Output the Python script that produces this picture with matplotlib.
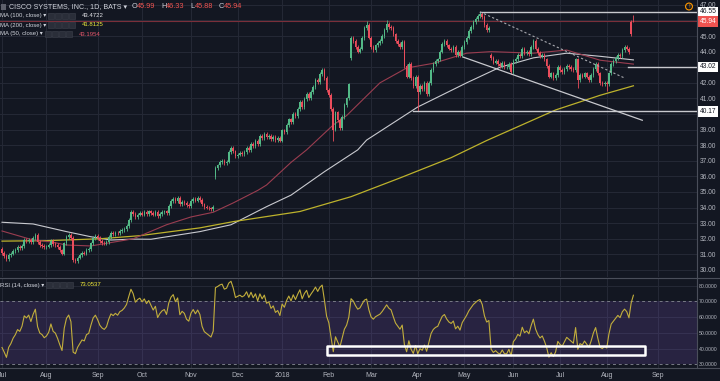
import numpy as np
import pandas as pd
import matplotlib
matplotlib.use("Agg")
import matplotlib.pyplot as plt
from matplotlib.patches import Rectangle

plt.rcParams['font.family'] = ['Liberation Sans', 'DejaVu Sans']

# trading days shown on the chart (NYSE holidays removed)
holidays = ["2017-07-04", "2017-09-04", "2017-11-23", "2017-12-25", "2018-01-01",
            "2018-01-15", "2018-02-19", "2018-03-30", "2018-05-28", "2018-07-04"]
dates = pd.bdate_range("2017-07-03", "2018-08-17", freq="C", holidays=holidays)

# daily closes
closes = [
    31.10, 30.92, 30.70, 30.95, 31.05, 31.20, 31.30, 31.45, 31.40, 31.55,
    31.90, 31.85, 31.95, 31.80, 32.05, 32.25, 31.80, 31.60, 31.55, 31.45,
    31.50, 31.60, 31.85, 31.65, 31.60, 31.45, 31.25, 31.05, 31.70, 32.10,
    32.25, 32.05, 30.65, 30.55, 30.80, 30.95, 31.10, 31.05, 31.30, 31.35,
    31.70, 32.05, 32.20, 32.05, 31.85, 31.75, 31.70, 31.80, 32.10, 32.35,
    32.30, 32.40, 32.35, 32.50, 32.55, 32.65, 32.80, 33.20, 33.70, 33.60,
    33.40, 33.55, 33.63, 33.55, 33.70, 33.60, 33.75, 33.65, 33.55, 33.70,
    33.45, 33.60, 33.70, 33.75, 33.65, 34.10, 34.40, 34.55, 34.40, 34.60,
    34.20, 34.35, 34.30, 34.15, 34.10, 34.40, 34.55, 34.45, 34.60, 34.50,
    34.20, 34.05, 34.00, 33.95, 33.90, 34.05, 36.55, 36.70, 36.90, 37.00,
    36.85, 36.95, 37.55, 37.80, 37.60, 37.30, 37.40, 37.50, 37.45, 37.55,
    37.85, 37.70, 38.10, 37.95, 38.25, 38.05, 38.60, 38.45, 38.75, 38.50,
    38.60, 38.40, 38.55, 38.35, 38.45, 38.30, 38.95, 38.85, 39.30, 39.65,
    39.50, 40.00, 39.85, 40.30, 40.75, 40.45, 40.95, 41.30, 41.05, 41.40,
    41.75, 42.20, 42.05, 42.55, 42.85, 42.30, 41.55, 41.20, 40.30, 39.00,
    40.10, 39.60, 39.10, 39.80, 40.60, 41.00, 41.90, 44.90, 44.70, 44.30,
    44.00, 44.20, 44.85, 45.50, 45.70, 44.90, 44.30, 44.10, 44.40, 44.55,
    44.70, 45.00, 45.40, 45.80, 45.60, 45.50, 45.10, 44.70, 44.50, 44.30,
    44.60, 43.10, 42.40, 43.20, 42.30, 41.80, 42.40, 41.40, 41.80, 41.60,
    42.00, 41.30, 42.00, 42.80, 43.20, 43.40, 43.50, 44.00, 44.50, 44.70,
    44.40, 44.20, 44.10, 44.30, 43.80, 44.00, 43.75, 44.30, 44.60, 44.90,
    45.30, 45.60, 45.90, 46.10, 46.30, 46.40, 46.20, 45.70, 45.40, 45.50,
    43.60, 43.30, 43.40, 43.20, 43.10, 43.30, 43.00, 43.00, 43.20, 42.70,
    43.40, 43.55, 43.80, 43.70, 44.20, 43.90, 44.00, 43.85, 44.30, 44.70,
    44.20, 43.90, 43.70, 43.80, 43.50, 43.10, 42.40, 42.60, 42.30, 42.50,
    43.00, 42.80, 42.70, 42.90, 43.10, 43.00, 42.90, 42.80, 43.50, 42.20,
    42.50, 42.40, 42.60, 42.40, 42.20, 42.50, 42.90, 43.20, 42.60, 42.00,
    41.90, 42.00, 41.90, 42.60, 43.20, 43.40, 43.60, 43.80, 43.70, 44.10,
    44.30, 44.20, 43.95, 45.10, 45.94,
]
# opens that gap away from the previous close
gap_opens = {96: 35.95, 157: 43.60, 220: 43.80, 283: 45.90, 284: 45.99}
extra_highs = {164: 45.95, 173: 46.05, 215: 46.55, 284: 46.33}
extra_lows = {149: 38.30, 187: 40.17, 259: 41.65, 272: 41.50, 284: 45.88}

# closes before the visible window (only used to warm up the RSI)
warmup = [31.60, 31.75, 31.55, 31.70, 31.50, 31.65, 31.45, 31.60,
          31.40, 31.55, 31.35, 31.50, 31.30, 31.45, 31.25, 31.35]

# moving averages (bar index, value)
ma100_idx = [0, 14, 29, 40, 49, 59, 67, 89, 103, 119, 130, 145, 160, 164, 187, 209, 224, 239, 254, 269, 284]
ma100_val = [33.06, 32.95, 32.46, 32.13, 31.92, 31.98, 31.97, 32.46, 32.90, 34.06, 34.80, 36.30, 37.70, 38.33,
             40.45, 42.00, 43.00, 43.60, 43.90, 43.70, 43.47]
ma200_idx = [0, 20, 44, 62, 89, 104, 134, 157, 179, 202, 218, 249, 269, 284]
ma200_val = [31.85, 31.88, 32.00, 32.20, 32.70, 33.10, 33.75, 34.70, 35.90, 37.20, 38.30, 40.26, 41.20, 41.81]
ma50_idx = [0, 14, 22, 29, 40, 59, 74, 85, 95, 104, 115, 119, 130, 137, 149, 155, 170, 182, 188, 194,
            209, 220, 239, 254, 269, 284]
ma50_val = [32.50, 31.92, 31.80, 31.60, 31.54, 32.00, 32.90, 33.40, 33.70, 34.30, 35.10, 35.45, 36.90, 37.70,
            39.30, 39.90, 42.00, 42.95, 43.10, 43.25, 43.90, 44.00, 43.90, 44.10, 43.45, 43.20]

BG = "#131722"
GRID = "#252936"
TXT = "#b2b5be"
UP = "#53b987"
DOWN = "#eb4d5c"

n = len(closes)
x = np.arange(n)
c = np.array(closes)
o = np.r_[warmup[-1], c[:-1]]
for k, v in gap_opens.items():
    o[k] = v
hi = np.maximum(o, c) + 0.12
lo = np.minimum(o, c) - 0.12
for k, v in extra_highs.items():
    hi[k] = v
for k, v in extra_lows.items():
    lo[k] = v

# RSI(14), Wilder smoothing
allc = np.array(warmup + closes)
d = np.diff(allc)
up = np.clip(d, 0, None)
dn = np.clip(-d, 0, None)
au, ad = up[:14].mean(), dn[:14].mean()
rsi = []
for k in range(14, len(d)):
    au = (au * 13 + up[k]) / 14
    ad = (ad * 13 + dn[k]) / 14
    rsi.append(100 - 100 / (1 + au / ad))
rsi = np.array(rsi[-n:])

fig = plt.figure(figsize=(7.2, 3.81), dpi=100, facecolor=BG)
W, H = 720, 381
ax = fig.add_axes([0, 1 - 277 / H, 697 / W, 277 / H], facecolor=BG)
ax2 = fig.add_axes([0, 13 / H, 697 / W, 90 / H], facecolor=BG, sharex=ax)

xmin, xmax = -0.9, 312.6
ax.set_xlim(xmin, xmax)
ax.set_ylim(29.55, 47.31)
ax2.set_ylim(27.6, 84.9)

# month starts for the grid / date labels
month_pos, month_lab = [], []
for i, dt in enumerate(dates):
    if i == 0 or dt.month != dates[i - 1].month:
        month_pos.append(i)
        month_lab.append("2018" if (dt.month == 1) else dt.strftime("%b"))
month_pos.append(295)
month_lab.append("Sep")

for a in (ax, ax2):
    for mp in month_pos:
        a.axvline(mp, color=GRID, lw=0.7, zorder=0)
    for s in a.spines.values():
        s.set_visible(False)
    a.tick_params(length=0, labelsize=5, colors=TXT)
    a.yaxis.tick_right()

for p in range(30, 48):
    ax.axhline(p, color=GRID, lw=0.7, zorder=0)
ax.set_yticks([p for p in range(30, 48) if p not in (40, 43, 46)])
ax.set_yticklabels(["%.2f" % p for p in range(30, 48) if p not in (40, 43, 46)])
ax.tick_params(axis="y", pad=2, labelsize=4.8)
ax.tick_params(axis="x", labelbottom=False)

# candles
col = np.where(c >= o, UP, DOWN)
ax.vlines(x, lo, hi, colors=col, lw=0.6, zorder=3)
body = np.maximum(np.abs(c - o), 0.04)
ax.bar(x, body, bottom=np.minimum(o, c), width=0.7, color=col, lw=0, zorder=4)

# moving averages
ax.plot(ma100_idx, ma100_val, color="#c9cad0", lw=0.8, zorder=2)
ax.plot(ma200_idx, ma200_val, color="#bdb22c", lw=0.9, zorder=2)
ax.plot(ma50_idx, ma50_val, color="#9a3d50", lw=0.8, zorder=2)

# drawings
ax.axhline(45.94, color="#7a2f3a", lw=0.8, zorder=1)
ax.plot([215, xmax], [46.55, 46.55], color="#c8c9ce", lw=1.0, zorder=5)
ax.plot([215, 280], [46.55, 42.31], color="#a9aab0", lw=0.8, ls=(0, (2, 2)), zorder=5)
ax.plot([207.4, 288], [43.65, 39.6], color="#c8c9ce", lw=0.9, zorder=5)
ax.plot([281.6, xmax], [43.02, 43.02], color="#c8c9ce", lw=1.0, zorder=5)
ax.plot([185, xmax], [40.17, 40.17], color="#c8c9ce", lw=1.0, zorder=5)

tr = ax.get_yaxis_transform()
for val, fc, tc in [(46.55, "white", "#131722"), (45.94, "#ef5350", "white"),
                    (43.02, "white", "#131722"), (40.17, "white", "#131722")]:
    ax.text(1.004, val, "%.2f" % val, transform=tr, fontsize=4.8, color=tc, va="center", ha="left",
            bbox=dict(boxstyle="square,pad=0.25", fc=fc, ec="none"), clip_on=False, zorder=10)

# separators
fig.add_artist(plt.Line2D([697 / W, 697 / W], [13 / H, 1], color="#4a4e5a", lw=0.8))
fig.add_artist(plt.Line2D([0, 1], [1 - 277.5 / H, 1 - 277.5 / H], color="#4a4e5a", lw=0.8))
fig.add_artist(plt.Line2D([0, 1], [13 / H, 13 / H], color="#4a4e5a", lw=0.8))

# RSI panel
for p in (40, 50, 60, 80):
    ax2.axhline(p, color=GRID, lw=0.7, zorder=0)
ax2.axhspan(30, 70, color="#7e57c2", alpha=0.2, lw=0, zorder=0)
ax2.axhline(70, color="#787b86", lw=0.7, ls=(0, (3, 3)), zorder=1)
ax2.axhline(30, color="#787b86", lw=0.7, ls=(0, (3, 3)), zorder=1)
ax2.plot(x, rsi, color="#c2ae3c", lw=0.8, zorder=3)
ax2.add_patch(Rectangle((146.2, 35.6), 143, 6.2, fc="none", ec="white", lw=1.8,
                        joinstyle="round", zorder=6))
ax2.set_yticks([30, 40, 50, 60, 70, 80])
ax2.set_yticklabels(["%.4f" % v for v in [30, 40, 50, 60, 70, 80]])
ax2.tick_params(axis="y", pad=1.5, labelsize=3.7)
ax2.set_xticks(month_pos)
ax2.set_xticklabels(month_lab)
ax2.tick_params(axis="x", pad=3, labelsize=5)


def px(xp, yp):
    return xp / W, 1 - yp / H


# legend header
fig.add_artist(Rectangle(px(1, 10), 5 / W, 6 / H, fc="#5d606b", ec="none"))
fig.text(*px(9, 7), "CISCO SYSTEMS, INC., 1D, BATS \u25be", fontsize=5.1, color="#d1d4dc", va="center")
xs = 132
for lab, val in [("O", "45.99"), ("H", "46.33"), ("L", "45.88"), ("C", "45.94")]:
    fig.text(*px(xs, 7), lab, fontsize=5.3, color="#d1d4dc", va="center")
    fig.text(*px(xs + 5, 7), val, fontsize=5.3, color="#ef5350", va="center")
    xs += 29


def legend_row(yp, label, value, vcol, bx):
    fig.text(*px(0, yp), label + " \u25be", fontsize=4.3, color="#d1d4dc", va="center")
    for j in range(4):
        fig.add_artist(Rectangle(px(bx + j * 7, yp + 3), 6 / W, 6 / H, fc="#2a2e39", ec="#3d414d", lw=0.4))
    fig.text(*px(bx + 34, yp), value, fontsize=4.3, color=vcol, va="center")


legend_row(15.5, "MA (100, close)", "43.4722", "#e6e6ea", 48)
legend_row(25, "MA (200, close)", "41.8125", "#f0ea3a", 48)
legend_row(34, "MA (50, close)", "43.1954", "#e0566a", 45)
legend_row(285, "RSI (14, close)", "73.0537", "#f0ea3a", 46)

# alert icon
fig.text(*px(689, 6.5), "!", fontsize=4.5, color="#ff9800", ha="center", va="center",
         bbox=dict(boxstyle="circle,pad=0.15", fc="none", ec="#ff9800", lw=0.8))

fig.savefig("out.png", dpi=100, facecolor=BG)
